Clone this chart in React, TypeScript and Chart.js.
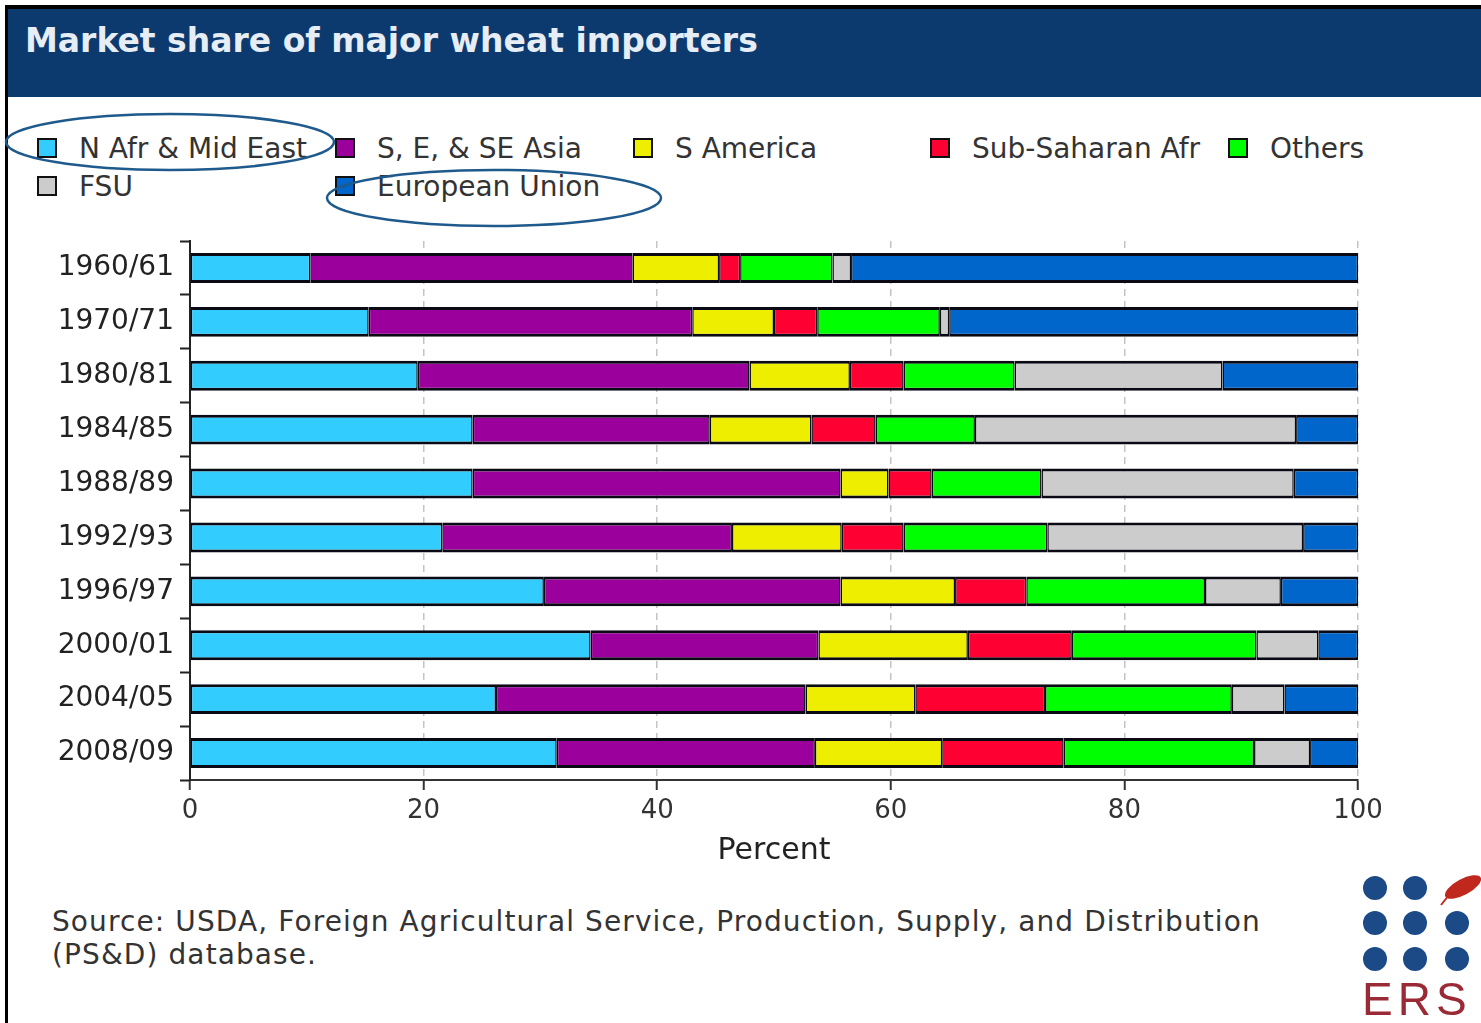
import React, { useEffect, useRef } from "react";
import { Chart, registerables } from "chart.js";

Chart.register(...registerables);

const categories = ["1960/61", "1970/71", "1980/81", "1984/85", "1988/89", "1992/93", "1996/97", "2000/01", "2004/05", "2008/09"];
const seriesNames = ["N Afr & Mid East", "S, E, & SE Asia", "S America", "Sub-Saharan Afr", "Others", "FSU", "European Union"];
const seriesColors = ["#33ccff", "#9c009c", "#eeee00", "#ff0033", "#00ff00", "#cccccc", "#0066cc"];

const nAfrMidEast = [10.3, 15.3, 19.5, 24.2, 24.2, 21.6, 30.3, 34.3, 26.2, 31.4];
const seAsia = [27.6, 27.7, 28.4, 20.3, 31.5, 24.8, 25.4, 19.5, 26.5, 22.1];
const sAmerica = [7.4, 7.0, 8.6, 8.7, 4.1, 9.4, 9.8, 12.8, 9.4, 10.9];
const subSaharan = [1.8, 3.7, 4.6, 5.5, 3.7, 5.3, 6.1, 8.9, 11.1, 10.4];
const others = [7.9, 10.5, 9.5, 8.5, 9.4, 12.3, 15.3, 15.8, 16.0, 16.3];
const fsu = [1.6, 0.8, 17.8, 27.5, 21.6, 21.9, 6.5, 5.3, 4.5, 4.8];
const europeanUnion = [43.4, 35.0, 11.6, 5.3, 5.5, 4.7, 6.6, 3.4, 6.3, 4.1];

const seriesValues = [nAfrMidEast, seAsia, sAmerica, subSaharan, others, fsu, europeanUnion];

const xTickValues = [0, 20, 40, 60, 80, 100];
const title = "Market share of major wheat importers";
const xTitle = "Percent";
const sourceLines = [
  "Source: USDA, Foreign Agricultural Service, Production, Supply, and Distribution",
  "(PS&D) database.",
];

const FONT = '"DejaVu Sans", sans-serif';

export default function App() {
  const canvasRef = useRef<HTMLCanvasElement | null>(null);

  useEffect(() => {
    const canvas = canvasRef.current;
    if (!canvas) return;
    const chart = new Chart(canvas, {
      type: "bar",
      data: {
        labels: categories,
        datasets: seriesNames.map((name, i) => ({
          label: name,
          data: seriesValues[i],
          backgroundColor: seriesColors[i],
          borderColor: "#0a0a14",
          borderWidth: { top: 3, bottom: 3, left: 1.5, right: 1.5 },
          borderSkipped: false,
          barPercentage: 30 / 54,
          categoryPercentage: 1,
        })),
      },
      options: {
        indexAxis: "y",
        animation: false,
        responsive: false,
        devicePixelRatio: 1,
        layout: { padding: { left: 0, right: 123, top: 31, bottom: 11 } },
        plugins: {
          legend: { display: false },
          tooltip: { enabled: false },
          title: { display: false },
        },
        scales: {
          x: {
            stacked: true,
            min: 0,
            max: 100,
            afterBuildTicks: (scale: any) => {
              scale.ticks = xTickValues.map((v) => ({ value: v }));
            },
            afterFit: (scale: any) => {
              scale.height = 89;
            },
            ticks: {
              color: "#333333",
              font: { family: FONT, size: 26 },
              padding: 6,
              maxRotation: 0,
            },
            grid: {
              color: "#c4c4c4",
              lineWidth: 1.5,
              tickColor: "#333333",
              tickLength: 10,
              tickWidth: 2,
              tickBorderDash: [],
            } as any,
            border: { display: true, color: "#333333", width: 2, dash: [7, 5] },
            title: {
              display: true,
              text: xTitle,
              color: "#222222",
              font: { family: FONT, size: 30 },
              padding: { top: 0, bottom: 0 },
            },
          },
          y: {
            stacked: true,
            afterFit: (scale: any) => {
              scale.width = 190;
            },
            ticks: {
              color: "#222222",
              font: { family: FONT, size: 28 },
              padding: 6,
            },
            grid: {
              drawOnChartArea: false,
              offset: true,
              tickColor: "#222222",
              tickLength: 10,
              tickWidth: 2,
            },
            border: { display: true, color: "#222222", width: 2 },
          },
        },
      },
    } as any);
    return () => chart.destroy();
  }, []);

  const legendCols = [37, 335, 633, 930, 1228];
  const legendRows = [148, 186];

  return (
    <div
      style={{
        position: "absolute",
        left: 0,
        top: 0,
        width: 1481,
        height: 1023,
        background: "#ffffff",
        overflow: "hidden",
        fontFamily: FONT,
      }}
    >
      {/* frame */}
      <div style={{ position: "absolute", left: 5, top: 5, right: 0, height: 4, background: "#000" }} />
      <div style={{ position: "absolute", left: 5, top: 5, width: 3, bottom: 0, background: "#000" }} />
      {/* title bar */}
      <div
        style={{
          position: "absolute",
          left: 8,
          top: 9,
          right: 0,
          height: 88,
          background: "#0c3a6e",
        }}
      >
        <div
          style={{
            position: "absolute",
            left: 17,
            top: 12,
            color: "#e6edf5",
            fontWeight: "bold",
            fontSize: 33,
            whiteSpace: "nowrap",
            fontFamily: FONT,
          }}
        >
          {title}
        </div>
      </div>

      {/* legend */}
      {seriesNames.map((name, i) => {
        const col = i % 5;
        const row = Math.floor(i / 5);
        const cx = legendCols[col];
        const cy = legendRows[row];
        return (
          <React.Fragment key={name}>
            <div
              style={{
                position: "absolute",
                left: cx,
                top: cy - 10,
                width: 20,
                height: 20,
                boxSizing: "border-box",
                border: "2px solid #111",
                background: seriesColors[i],
              }}
            />
            <div
              style={{
                position: "absolute",
                left: cx + 42,
                top: cy - 16,
                height: 34,
                lineHeight: "34px",
                fontSize: 28,
                color: "#333333",
                whiteSpace: "nowrap",
              }}
            >
              {name}
            </div>
          </React.Fragment>
        );
      })}

      {/* highlight ellipses */}
      <svg
        width={1481}
        height={260}
        style={{ position: "absolute", left: 0, top: 0, pointerEvents: "none" }}
      >
        <ellipse cx={170} cy={142} rx={164} ry={28} fill="none" stroke="#1f5a8c" strokeWidth={2.5} />
        <ellipse cx={494} cy={198} rx={167} ry={28} fill="none" stroke="#1f5a8c" strokeWidth={2.5} />
      </svg>

      {/* chart */}
      <canvas
        ref={canvasRef}
        width={1481}
        height={670}
        style={{ position: "absolute", left: 0, top: 210, width: 1481, height: 670 }}
      />

      {/* source */}
      {sourceLines.map((line, i) => (
        <div
          key={i}
          style={{
            position: "absolute",
            left: 52,
            top: 905 + i * 33,
            height: 34,
            lineHeight: "34px",
            fontSize: 28,
            letterSpacing: 1.1,
            color: "#333333",
            whiteSpace: "nowrap",
          }}
        >
          {line}
        </div>
      ))}

      {/* ERS logo */}
      <svg width={140} height={170} style={{ position: "absolute", left: 1341, top: 853 }}>
        {[
          [34, 35],
          [74, 35],
          [34, 70],
          [74, 70],
          [116, 70],
          [34, 106],
          [74, 106],
          [116, 106],
        ].map(([x, y], k) => (
          <circle key={k} cx={x} cy={y} r={12} fill="#1b4a87" />
        ))}
        <ellipse cx={122} cy={34} rx={20} ry={8} fill="#c0281e" transform="rotate(-28 122 34)" />
        <line x1={100} y1={52} x2={108} y2={42} stroke="#c0281e" strokeWidth={2} />
        <text
          x={21}
          y={162}
          fontFamily='"Liberation Sans", Arial, sans-serif'
          fontSize={46}
          fill="#9a2a35"
          letterSpacing={5}
        >
          ERS
        </text>
      </svg>
    </div>
  );
}
